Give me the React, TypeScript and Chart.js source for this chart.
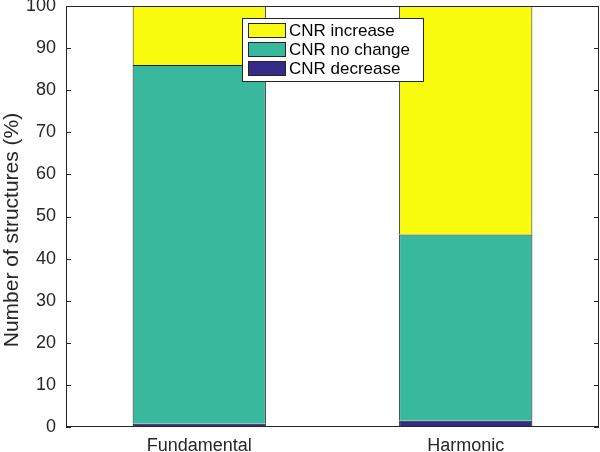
import React, { useEffect, useRef } from "react";
import { Chart, registerables } from "chart.js";

Chart.register(...registerables);

const categories = ["Fundamental", "Harmonic"];
const seriesLabels = ["CNR decrease", "CNR no change", "CNR increase"];
const decreaseValues = [0.8, 1.5];
const noChangeValues = [85.2, 44.2];
const increaseValues = [14.0, 54.3];
const yTicks = [0, 10, 20, 30, 40, 50, 60, 70, 80, 90, 100];
const yTitle = "Number of structures (%)";

const COLORS = ["#352A87", "#38B99E", "#F9FB0E"];
const FONT = "'Liberation Sans', Arial, Helvetica, sans-serif";
const TEXT = "#262626";

const framePlugin = {
  id: "frame",
  afterDatasetsDraw(chart: any) {
    const { ctx, chartArea: a, scales } = chart;
    ctx.save();
    ctx.strokeStyle = TEXT;
    ctx.lineWidth = 1;
    ctx.strokeRect(Math.round(a.left) + 0.5, Math.round(a.top) + 0.5, Math.round(a.right - a.left) - 1, Math.round(a.bottom - a.top) - 1);
    const y = scales.y;
    ctx.beginPath();
    yTicks.forEach((t) => {
      const py = Math.round(y.getPixelForValue(t)) + 0.5;
      ctx.moveTo(a.left, py);
      ctx.lineTo(a.left + 5, py);
      ctx.moveTo(a.right, py);
      ctx.lineTo(a.right - 5, py);
    });
    ctx.stroke();

    // y title
    ctx.save();
    ctx.translate(12, 230);
    ctx.rotate(-Math.PI / 2);
    ctx.font = `21px ${FONT}`;
    ctx.fillStyle = TEXT;
    ctx.textAlign = "center";
    ctx.textBaseline = "middle";
    ctx.fillText(yTitle, 0, 0);
    ctx.restore();

    // legend
    const lx = 242, ly = 18, lw = 181, lh = 63;
    ctx.fillStyle = "#ffffff";
    ctx.fillRect(lx, ly, lw, lh);
    ctx.strokeStyle = "#262626";
    ctx.strokeRect(lx + 0.5, ly + 0.5, lw, lh);
    ctx.font = `17px ${FONT}`;
    ctx.textBaseline = "middle";
    ctx.textAlign = "left";
    const order = [2, 1, 0];
    order.forEach((di, i) => {
      const cy = ly + 12 + i * 19;
      ctx.fillStyle = COLORS[di];
      ctx.fillRect(lx + 6, cy - 7, 37, 14);
      ctx.strokeStyle = "#262626";
      ctx.strokeRect(lx + 6.5, cy - 6.5, 37, 14);
      ctx.fillStyle = "#000";
      ctx.fillText(seriesLabels[di], lx + 47, cy + 1);
    });
    ctx.restore();
  },
};

export default function App() {
  const ref = useRef<HTMLCanvasElement>(null);
  useEffect(() => {
    document.body.style.margin = "0";
    const chart = new Chart(ref.current!, {
      type: "bar",
      data: {
        labels: categories,
        datasets: [decreaseValues, noChangeValues, increaseValues].map((d, i) => ({
          label: seriesLabels[i],
          data: d,
          backgroundColor: COLORS[i],
          borderColor: "#1e1e1e",
          borderWidth: { top: 1, left: 1, right: 1, bottom: 0 },
          borderSkipped: false,
          barPercentage: 0.5,
          categoryPercentage: 1,
        })),
      },
      options: {
        animation: false,
        responsive: false,
        maintainAspectRatio: false,
        layout: { padding: { top: 6, right: 1, left: 0, bottom: 0 } },
        plugins: { legend: { display: false }, tooltip: { enabled: false } },
        scales: {
          x: {
            stacked: true,
            grid: { display: false, drawTicks: false },
            border: { display: false },
            ticks: { color: TEXT, font: { family: FONT, size: 18 }, padding: 8 },
            afterFit: (s: any) => { s.height = 25; },
          },
          y: {
            stacked: true,
            min: 0,
            max: 100,
            grid: { display: false, drawTicks: false },
            border: { display: false },
            ticks: { stepSize: 10, color: TEXT, font: { family: FONT, size: 18 }, padding: 10 },
            afterFit: (s: any) => { s.width = 66; s.paddingTop = 0; s.paddingBottom = 0; },
          },
        },
      },
      plugins: [framePlugin],
    });
    return () => chart.destroy();
  }, []);
  return (
    <div style={{ width: 600, height: 452 }}>
      <canvas ref={ref} width={600} height={452} style={{ display: "block" }} />
    </div>
  );
}
